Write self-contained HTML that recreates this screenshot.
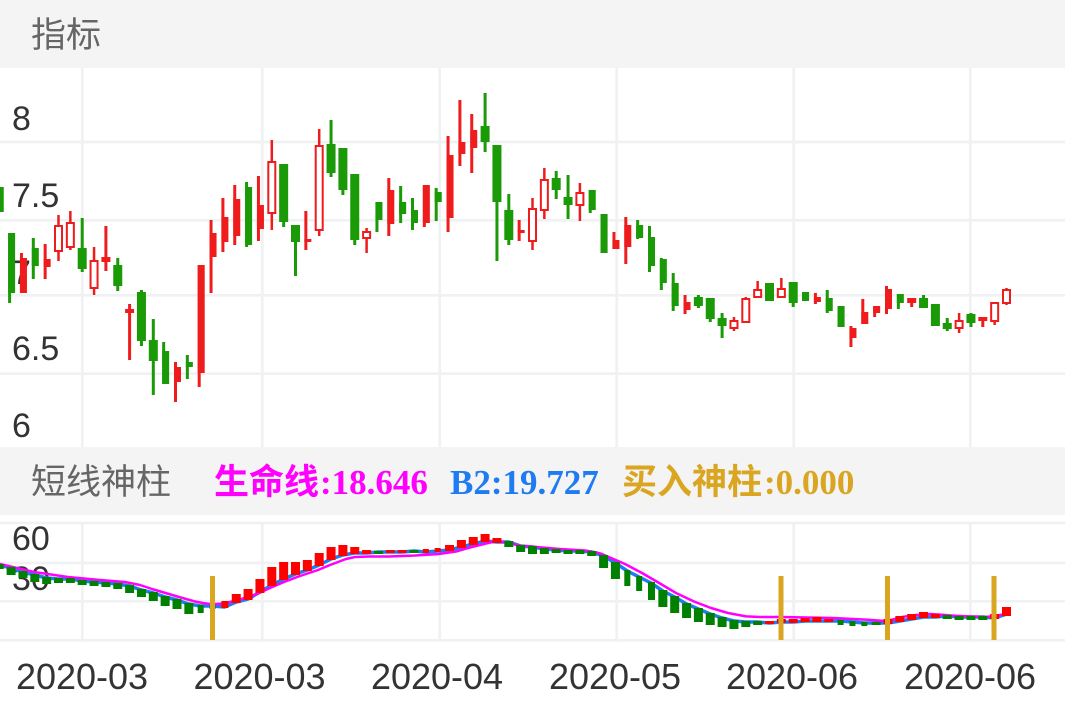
<!DOCTYPE html>
<html><head><meta charset="utf-8"><style>
html,body{margin:0;padding:0;background:#fff;width:1065px;height:708px;overflow:hidden}
svg{display:block}
.cr{fill:#ee1c1c}.cg{fill:#1a9a06}
.ch{fill:#fff;stroke:#ee1c1c;stroke-width:2}
.lr{fill:#ff0000}.lg{fill:#008000}
.ax{font-family:"Liberation Sans",sans-serif;fill:#333}
.hd{font-family:"Liberation Sans","Noto Sans CJK SC",sans-serif;fill:#666;font-size:35px}
.bt{font-family:"Liberation Serif","Noto Sans CJK SC",serif;font-weight:bold;font-size:35px}
</style></head><body>
<svg width="1065" height="708" viewBox="0 0 1065 708">
<rect width="1065" height="708" fill="#fff"/>
<rect x="0" y="0" width="1065" height="68" fill="#f4f4f4"/>
<rect x="0" y="447" width="1065" height="68" fill="#f4f4f4"/>
<text class="hd" x="31" y="47">指标</text>
<text class="hd" x="31" y="494">短线神柱</text>
<text class="bt" x="214" y="494" fill="#ff00ff">生命线</text>
<text class="bt" x="320" y="494" fill="#ff00ff">:18.646</text>
<text class="bt" x="450" y="494" fill="#1e7bf2" font-size="36">B2:19.727</text>
<text class="bt" x="622" y="494" fill="#daa520">买入神柱</text>
<text class="bt" x="764" y="494" fill="#daa520">:0.000</text>

<g stroke="#f0f1f3" stroke-width="2.7">
<line x1="82.3" y1="68" x2="82.3" y2="447"/><line x1="262.3" y1="68" x2="262.3" y2="447"/><line x1="439.7" y1="68" x2="439.7" y2="447"/><line x1="616.7" y1="68" x2="616.7" y2="447"/><line x1="793.7" y1="68" x2="793.7" y2="447"/><line x1="970.3" y1="68" x2="970.3" y2="447"/>
<line x1="0" y1="142" x2="1065" y2="142"/><line x1="0" y1="220.3" x2="1065" y2="220.3"/><line x1="0" y1="295.3" x2="1065" y2="295.3"/><line x1="0" y1="373.7" x2="1065" y2="373.7"/>
<line x1="82.3" y1="522" x2="82.3" y2="642"/><line x1="262.3" y1="522" x2="262.3" y2="642"/><line x1="439.7" y1="522" x2="439.7" y2="642"/><line x1="616.7" y1="522" x2="616.7" y2="642"/><line x1="793.7" y1="522" x2="793.7" y2="642"/><line x1="970.3" y1="522" x2="970.3" y2="642"/>
<line x1="0" y1="523" x2="1065" y2="523"/><line x1="0" y1="563" x2="1065" y2="563"/><line x1="0" y1="601.2" x2="1065" y2="601.2"/><line x1="0" y1="640.3" x2="1065" y2="640.3"/>
</g>

<g class="ax" font-size="34">
<text x="12" y="130">8</text><text x="12" y="207">7.5</text><text x="12" y="284">7</text><text x="12" y="360">6.5</text><text x="12" y="437">6</text>
<text x="12" y="550">60</text><text x="12" y="590">30</text>
</g>
<g class="ax" font-size="36" text-anchor="middle">
<text x="82" y="689">2020-03</text><text x="259.5" y="689">2020-03</text><text x="437" y="689">2020-04</text><text x="615" y="689">2020-05</text><text x="792" y="689">2020-06</text><text x="970" y="689">2020-06</text>
</g>

<!-- candles -->
<g class="cg" transform="translate(-0.75)"><rect x="-1.5" y="187" width="3" height="25"/><rect x="-4.5" y="187" width="9" height="25"/></g>
<g class="cg" transform="translate(11.1)"><rect x="-3" y="233" width="3" height="70"/><rect x="-3" y="233" width="7" height="60"/></g>
<g class="cr" transform="translate(22.95)"><rect x="-3" y="253" width="3" height="40"/><rect x="-3" y="258" width="7" height="35"/></g>
<g class="cg" transform="translate(34.8)"><rect x="-3" y="238" width="3" height="41"/><rect x="-3" y="248" width="7" height="18"/></g>
<g class="cr" transform="translate(46.65)"><rect x="-3" y="244" width="3" height="35"/><rect x="-3" y="259" width="7" height="8"/></g>
<g class="cr" transform="translate(58.5)"><rect x="-1.25" y="215" width="2.5" height="46"/><rect class="ch" x="-3.5" y="226" width="7" height="25"/></g>
<g class="cr" transform="translate(70.35)"><rect x="-1.25" y="211" width="2.5" height="39"/><rect class="ch" x="-3.5" y="223" width="7" height="24"/></g>
<g class="cg" transform="translate(82.2)"><rect x="-1.5" y="218" width="3" height="54"/><rect x="-4.5" y="248" width="9" height="21"/></g>
<g class="cr" transform="translate(94.05)"><rect x="-1.25" y="247" width="2.5" height="48"/><rect class="ch" x="-3.5" y="261" width="7" height="27"/></g>
<g class="cr" transform="translate(105.9)"><rect x="-1.5" y="226" width="3" height="45"/><rect x="-4.5" y="257" width="9" height="5"/></g>
<g class="cg" transform="translate(117.75)"><rect x="-1.5" y="258" width="3" height="33"/><rect x="-4.5" y="265" width="9" height="21"/></g>
<g class="cr" transform="translate(129.6)"><rect x="-1.5" y="304" width="3" height="56"/><rect x="-4.5" y="309" width="9" height="4"/></g>
<g class="cg" transform="translate(141.45)"><rect x="-1.5" y="290" width="3" height="56"/><rect x="-4.5" y="292" width="9" height="49"/></g>
<g class="cg" transform="translate(153.3)"><rect x="-1.5" y="319" width="3" height="76"/><rect x="-4.5" y="340" width="9" height="21"/></g>
<g class="cg" transform="translate(165.15)"><rect x="-3" y="342" width="3" height="42"/><rect x="-3" y="351" width="7" height="33"/></g>
<g class="cr" transform="translate(177)"><rect x="-3" y="362" width="3" height="40"/><rect x="-3" y="367" width="7" height="15"/></g>
<g class="cg" transform="translate(188.85)"><rect x="-3" y="355" width="3" height="24"/><rect x="-3" y="362" width="7" height="5"/></g>
<g class="cr" transform="translate(200.7)"><rect x="-3" y="265" width="3" height="122"/><rect x="-3" y="265" width="7" height="108"/></g>
<g class="cr" transform="translate(212.55)"><rect x="-3" y="220" width="3" height="73"/><rect x="-3" y="233" width="7" height="24"/></g>
<g class="cr" transform="translate(224.4)"><rect x="-3" y="198" width="3" height="54"/><rect x="-3" y="217" width="7" height="25"/></g>
<g class="cr" transform="translate(236.25)"><rect x="-3" y="185" width="3" height="60"/><rect x="-3" y="199" width="7" height="37"/></g>
<g class="cg" transform="translate(248.1)"><rect x="-3" y="182" width="3" height="65"/><rect x="-3" y="187" width="7" height="58"/></g>
<g class="cr" transform="translate(259.95)"><rect x="-3" y="176" width="3" height="65"/><rect x="-3" y="205" width="7" height="24"/></g>
<g class="cr" transform="translate(271.8)"><rect x="-1.25" y="140" width="2.5" height="90"/><rect class="ch" x="-3.5" y="162" width="7" height="51"/></g>
<g class="cg" transform="translate(283.65)"><rect x="-1.5" y="164" width="3" height="63"/><rect x="-4.5" y="164" width="9" height="58"/></g>
<g class="cg" transform="translate(295.5)"><rect x="-1.5" y="225" width="3" height="51"/><rect x="-4.5" y="225" width="9" height="17"/></g>
<g class="cr" transform="translate(307.35)"><rect x="-3" y="211" width="3" height="39"/><rect x="-3" y="239" width="7" height="3"/></g>
<g class="cr" transform="translate(319.2)"><rect x="-1.25" y="129" width="2.5" height="107"/><rect class="ch" x="-3.5" y="146" width="7" height="84"/></g>
<g class="cg" transform="translate(331.05)"><rect x="-1.5" y="120" width="3" height="57"/><rect x="-4.5" y="144" width="9" height="29"/></g>
<g class="cg" transform="translate(342.9)"><rect x="-1.5" y="148" width="3" height="47"/><rect x="-4.5" y="148" width="9" height="42"/></g>
<g class="cg" transform="translate(354.75)"><rect x="-1.5" y="174" width="3" height="71"/><rect x="-4.5" y="174" width="9" height="66"/></g>
<g class="cr" transform="translate(366.6)"><rect x="-1.25" y="228" width="2.5" height="25"/><rect class="ch" x="-3.5" y="232" width="7" height="6"/></g>
<g class="cg" transform="translate(378.45)"><rect x="-3" y="202" width="3" height="30"/><rect x="-3" y="202" width="7" height="18"/></g>
<g class="cr" transform="translate(390.3)"><rect x="-3" y="178" width="3" height="58"/><rect x="-3" y="190" width="7" height="34"/></g>
<g class="cg" transform="translate(402.15)"><rect x="-3" y="186" width="3" height="37"/><rect x="-3" y="202" width="7" height="12"/></g>
<g class="cg" transform="translate(414)"><rect x="-3" y="198" width="3" height="32"/><rect x="-3" y="210" width="7" height="13"/></g>
<g class="cr" transform="translate(425.85)"><rect x="-3" y="185" width="3" height="42"/><rect x="-3" y="185" width="7" height="38"/></g>
<g class="cg" transform="translate(437.7)"><rect x="-3" y="188" width="3" height="33"/><rect x="-3" y="192" width="7" height="10"/></g>
<g class="cr" transform="translate(449.55)"><rect x="-3" y="136" width="3" height="96"/><rect x="-3" y="155" width="7" height="63"/></g>
<g class="cr" transform="translate(461.4)"><rect x="-3" y="100" width="3" height="66"/><rect x="-3" y="142" width="7" height="12"/></g>
<g class="cr" transform="translate(473.25)"><rect x="-3" y="114" width="3" height="59"/><rect x="-3" y="130" width="7" height="18"/></g>
<g class="cg" transform="translate(485.1)"><rect x="-1.5" y="93" width="3" height="59"/><rect x="-4.5" y="126" width="9" height="16"/></g>
<g class="cg" transform="translate(496.95)"><rect x="-1.5" y="145" width="3" height="116"/><rect x="-4.5" y="145" width="9" height="57"/></g>
<g class="cg" transform="translate(508.8)"><rect x="-1.5" y="194" width="3" height="51"/><rect x="-4.5" y="210" width="9" height="30"/></g>
<g class="cr" transform="translate(520.65)"><rect x="-3" y="220" width="3" height="21"/><rect x="-3" y="230" width="7" height="3"/></g>
<g class="cr" transform="translate(532.5)"><rect x="-1.25" y="198" width="2.5" height="52"/><rect class="ch" x="-3.5" y="209" width="7" height="32"/></g>
<g class="cr" transform="translate(544.35)"><rect x="-1.25" y="168" width="2.5" height="51"/><rect class="ch" x="-3.5" y="180" width="7" height="30"/></g>
<g class="cg" transform="translate(556.2)"><rect x="-1.5" y="171" width="3" height="28"/><rect x="-4.5" y="178" width="9" height="12"/></g>
<g class="cg" transform="translate(568.05)"><rect x="-1.5" y="175" width="3" height="44"/><rect x="-4.5" y="197" width="9" height="8"/></g>
<g class="cr" transform="translate(579.9)"><rect x="-1.25" y="183" width="2.5" height="38"/><rect class="ch" x="-3.5" y="193" width="7" height="12"/></g>
<g class="cg" transform="translate(591.75)"><rect x="-3" y="190" width="3" height="23"/><rect x="-3" y="190" width="7" height="20"/></g>
<g class="cg" transform="translate(603.6)"><rect x="-3" y="214" width="3" height="39"/><rect x="-3" y="214" width="7" height="39"/></g>
<g class="cr" transform="translate(615.45)"><rect x="-3" y="232" width="3" height="17"/><rect x="-3" y="240" width="7" height="9"/></g>
<g class="cr" transform="translate(627.3)"><rect x="-3" y="217" width="3" height="47"/><rect x="-3" y="225" width="7" height="22"/></g>
<g class="cg" transform="translate(639.15)"><rect x="-3" y="220" width="3" height="19"/><rect x="-3" y="225" width="7" height="13"/></g>
<g class="cg" transform="translate(651)"><rect x="-3" y="226" width="3" height="46"/><rect x="-3" y="237" width="7" height="29"/></g>
<g class="cg" transform="translate(662.85)"><rect x="-3" y="258" width="3" height="32"/><rect x="-3" y="259" width="7" height="24"/></g>
<g class="cg" transform="translate(674.7)"><rect x="-3" y="273" width="3" height="38"/><rect x="-3" y="283" width="7" height="23"/></g>
<g class="cr" transform="translate(686.55)"><rect x="-3" y="295" width="3" height="19"/><rect x="-3" y="302" width="7" height="8"/></g>
<g class="cg" transform="translate(698.4)"><rect x="-1.5" y="295" width="3" height="13"/><rect x="-4.5" y="297" width="9" height="9"/></g>
<g class="cg" transform="translate(710.25)"><rect x="-1.5" y="298" width="3" height="24"/><rect x="-4.5" y="298" width="9" height="21"/></g>
<g class="cg" transform="translate(722.1)"><rect x="-1.5" y="313" width="3" height="25"/><rect x="-4.5" y="318" width="9" height="8"/></g>
<g class="cr" transform="translate(733.95)"><rect x="-1.25" y="317" width="2.5" height="14"/><rect class="ch" x="-3.5" y="321" width="7" height="7"/></g>
<g class="cr" transform="translate(745.8)"><rect x="-1.25" y="297" width="2.5" height="26"/><rect class="ch" x="-3.5" y="299" width="7" height="23"/></g>
<g class="cr" transform="translate(757.65)"><rect x="-1.25" y="281" width="2.5" height="17"/><rect class="ch" x="-3.5" y="290" width="7" height="7"/></g>
<g class="cg" transform="translate(769.5)"><rect x="-1.5" y="283" width="3" height="18"/><rect x="-4.5" y="283" width="9" height="18"/></g>
<g class="cr" transform="translate(781.35)"><rect x="-1.25" y="278" width="2.5" height="20"/><rect class="ch" x="-3.5" y="289" width="7" height="8"/></g>
<g class="cg" transform="translate(793.2)"><rect x="-1.5" y="282" width="3" height="25"/><rect x="-4.5" y="282" width="9" height="21"/></g>
<g class="cg" transform="translate(805.05)"><rect x="-3" y="292" width="3" height="9"/><rect x="-3" y="292" width="7" height="9"/></g>
<g class="cr" transform="translate(816.9)"><rect x="-3" y="293" width="3" height="11"/><rect x="-3" y="297" width="7" height="5"/></g>
<g class="cg" transform="translate(828.75)"><rect x="-3" y="290" width="3" height="23"/><rect x="-3" y="298" width="7" height="13"/></g>
<g class="cg" transform="translate(840.6)"><rect x="-3" y="306" width="3" height="21"/><rect x="-3" y="306" width="7" height="21"/></g>
<g class="cr" transform="translate(852.45)"><rect x="-3" y="326" width="3" height="21"/><rect x="-3" y="328" width="7" height="10"/></g>
<g class="cr" transform="translate(864.3)"><rect x="-3" y="299" width="3" height="25"/><rect x="-3" y="312" width="7" height="12"/></g>
<g class="cr" transform="translate(876.15)"><rect x="-3" y="306" width="3" height="11"/><rect x="-3" y="306" width="7" height="7"/></g>
<g class="cr" transform="translate(888)"><rect x="-3" y="286" width="3" height="28"/><rect x="-3" y="289" width="7" height="20"/></g>
<g class="cg" transform="translate(899.85)"><rect x="-3" y="294" width="3" height="15"/><rect x="-3" y="294" width="7" height="9"/></g>
<g class="cr" transform="translate(911.7)"><rect x="-1.5" y="298" width="3" height="9"/><rect x="-4.5" y="298" width="9" height="5"/></g>
<g class="cg" transform="translate(923.55)"><rect x="-1.5" y="295" width="3" height="13"/><rect x="-4.5" y="298" width="9" height="10"/></g>
<g class="cg" transform="translate(935.4)"><rect x="-1.5" y="304" width="3" height="22"/><rect x="-4.5" y="304" width="9" height="22"/></g>
<g class="cg" transform="translate(947.25)"><rect x="-1.5" y="318" width="3" height="13"/><rect x="-4.5" y="323" width="9" height="6"/></g>
<g class="cr" transform="translate(959.1)"><rect x="-1.25" y="313" width="2.5" height="20"/><rect class="ch" x="-3.5" y="321" width="7" height="7"/></g>
<g class="cg" transform="translate(970.95)"><rect x="-1.5" y="313" width="3" height="14"/><rect x="-4.5" y="314" width="9" height="9"/></g>
<g class="cr" transform="translate(982.8)"><rect x="-1.5" y="317" width="3" height="10"/><rect x="-4.5" y="317" width="9" height="4"/></g>
<g class="cr" transform="translate(994.65)"><rect x="-1.25" y="302" width="2.5" height="23"/><rect class="ch" x="-3.5" y="303" width="7" height="18"/></g>
<g class="cr" transform="translate(1006.5)"><rect x="-1.25" y="288" width="2.5" height="17"/><rect class="ch" x="-3.5" y="290" width="7" height="13"/></g>

<!-- lower panel lines -->
<polyline fill="none" stroke="#1e7ef0" stroke-width="3.5" stroke-linejoin="round" points="-0.75,565 11.1,568 22.95,572 34.8,575 46.65,578 58.5,579 70.35,579 82.2,581 94.05,582 105.9,583 117.75,584 129.6,586 141.45,590 153.3,593 165.15,597 177,600 188.85,604 200.7,606 212.55,606 224.4,607 236.25,602 248.1,599 259.95,592 271.8,585 283.65,579 295.5,574 307.35,570 319.2,565 331.05,559 342.9,555 354.75,553 366.6,553 378.45,552 390.3,552 402.15,552 414,551 425.85,552 437.7,551 449.55,550 461.4,547 473.25,544 485.1,541 496.95,542 508.8,542 520.65,546 532.5,547 544.35,549 556.2,550 568.05,551 579.9,551 591.75,552 603.6,556 615.45,563 627.3,571 639.15,577 651,583 662.85,591 674.7,597 686.55,604 698.4,609 710.25,614 722.1,618 733.95,621 745.8,622 757.65,622 769.5,623 781.35,622 793.2,622 805.05,621 816.9,621 828.75,621 840.6,621 852.45,622 864.3,623 876.15,623 888,623 899.85,621 911.7,619 923.55,617 935.4,617 947.25,616 959.1,617 970.95,617 982.8,617 994.65,618 1010,613"/>
<polyline fill="none" stroke="#ff00ff" stroke-width="2.5" stroke-linejoin="round" points="0,564 34,572 68,577 100,580 125,582 140,585 152,589 179,597 195,601.5 203,603 210,604 216,604 224,603.5 230,602 245,598 257,594 270,588 284,582 300,576 318,570 330,565 338,562 346,559 355,557 370,556.5 389,556.5 415,555.5 439,554 456,551.5 468,548 480,545 488,543 495,541.5 503,542 512,543.5 520,545.6 560,549 585,550.5 596,552.3 602,554 607,556.3 625,564 642,573 660,583.5 676,593 694,601.5 711,608 728,613 746,616.4 760,617 781,617 833,618 868,619.8 885,621 893,619.5 902,617 916,615 930,614 942,614.7 955,615.8 970,616.5 986,617 998,615.5 1010,613"/>

<!-- lower bars -->
<g>
<rect class="lg" transform="translate(-0.75)" x="-4.5" y="564" width="9" height="5"/>
<rect class="lg" transform="translate(11.1)" x="-4.5" y="567" width="9" height="8"/>
<rect class="lg" transform="translate(22.95)" x="-4.5" y="571" width="9" height="7"/>
<rect class="lg" transform="translate(34.8)" x="-4.5" y="574" width="9" height="8"/>
<rect class="lg" transform="translate(46.65)" x="-4.5" y="577" width="9" height="7"/>
<rect class="lg" transform="translate(58.5)" x="-4.5" y="578" width="9" height="5"/>
<rect class="lg" transform="translate(70.35)" x="-4.5" y="578" width="9" height="5"/>
<rect class="lg" transform="translate(82.2)" x="-4.5" y="580" width="9" height="5"/>
<rect class="lg" transform="translate(94.05)" x="-4.5" y="581" width="9" height="5"/>
<rect class="lg" transform="translate(105.9)" x="-4.5" y="582" width="9" height="5"/>
<rect class="lg" transform="translate(117.75)" x="-4.5" y="583" width="9" height="6"/>
<rect class="lg" transform="translate(129.6)" x="-4.5" y="585" width="9" height="8"/>
<rect class="lg" transform="translate(141.45)" x="-4.5" y="589" width="9" height="8"/>
<rect class="lg" transform="translate(153.3)" x="-4.5" y="592" width="9" height="9"/>
<rect class="lg" transform="translate(165.15)" x="-4.5" y="596" width="9" height="10"/>
<rect class="lg" transform="translate(177)" x="-4.5" y="599" width="9" height="10"/>
<rect class="lg" transform="translate(188.85)" x="-4.5" y="603" width="9" height="11"/>
<rect class="lg" transform="translate(200.7)" x="-3" y="605" width="6" height="8"/>
<rect class="lg" transform="translate(212.55)" x="-3" y="605" width="6" height="4"/>
<rect class="lr" transform="translate(224.4)" x="-3" y="601" width="7" height="7"/>
<rect class="lr" transform="translate(236.25)" x="-4.5" y="594" width="9" height="9"/>
<rect class="lr" transform="translate(248.1)" x="-4.5" y="589" width="9" height="11"/>
<rect class="lr" transform="translate(259.95)" x="-4.5" y="579" width="9" height="14"/>
<rect class="lr" transform="translate(271.8)" x="-4.5" y="567" width="9" height="19"/>
<rect class="lr" transform="translate(283.65)" x="-4.5" y="562" width="9" height="18"/>
<rect class="lr" transform="translate(295.5)" x="-4.5" y="562" width="9" height="13"/>
<rect class="lr" transform="translate(307.35)" x="-4.5" y="560" width="9" height="11"/>
<rect class="lr" transform="translate(319.2)" x="-4.5" y="553" width="9" height="13"/>
<rect class="lr" transform="translate(331.05)" x="-4.5" y="547" width="9" height="13"/>
<rect class="lr" transform="translate(342.9)" x="-4.5" y="545" width="9" height="11"/>
<rect class="lr" transform="translate(354.75)" x="-4.5" y="547" width="9" height="7"/>
<rect class="lr" transform="translate(366.6)" x="-4.5" y="550" width="9" height="4"/>
<rect class="lg" transform="translate(378.45)" x="-4.5" y="551" width="9" height="3"/>
<rect class="lr" transform="translate(390.3)" x="-4.5" y="550" width="9" height="3"/>
<rect class="lr" transform="translate(402.15)" x="-4.5" y="550" width="9" height="3"/>
<rect class="lg" transform="translate(414)" x="-4.5" y="550" width="9" height="3"/>
<rect class="lr" transform="translate(425.85)" x="-3" y="549" width="6" height="4"/>
<rect class="lr" transform="translate(437.7)" x="-3" y="548" width="6" height="4"/>
<rect class="lr" transform="translate(449.55)" x="-4.5" y="545" width="9" height="6"/>
<rect class="lr" transform="translate(461.4)" x="-4.5" y="540" width="9" height="8"/>
<rect class="lr" transform="translate(473.25)" x="-4.5" y="537" width="9" height="8"/>
<rect class="lr" transform="translate(485.1)" x="-4.5" y="534" width="9" height="8"/>
<rect class="lr" transform="translate(496.95)" x="-4.5" y="538" width="9" height="5"/>
<rect class="lg" transform="translate(508.8)" x="-4.5" y="541" width="9" height="6"/>
<rect class="lg" transform="translate(520.65)" x="-4.5" y="545" width="9" height="7"/>
<rect class="lg" transform="translate(532.5)" x="-4.5" y="546" width="9" height="8"/>
<rect class="lg" transform="translate(544.35)" x="-4.5" y="548" width="9" height="6"/>
<rect class="lg" transform="translate(556.2)" x="-4.5" y="549" width="9" height="4"/>
<rect class="lg" transform="translate(568.05)" x="-4.5" y="550" width="9" height="4"/>
<rect class="lg" transform="translate(579.9)" x="-4.5" y="550" width="9" height="4"/>
<rect class="lg" transform="translate(591.75)" x="-4.5" y="551" width="9" height="5"/>
<rect class="lg" transform="translate(603.6)" x="-4.5" y="555" width="9" height="13"/>
<rect class="lg" transform="translate(615.45)" x="-4.5" y="562" width="9" height="17"/>
<rect class="lg" transform="translate(627.3)" x="-3" y="570" width="6" height="16"/>
<rect class="lg" transform="translate(639.15)" x="-3" y="576" width="6" height="15"/>
<rect class="lg" transform="translate(651)" x="-3" y="582" width="7" height="18"/>
<rect class="lg" transform="translate(662.85)" x="-4.5" y="590" width="9" height="17"/>
<rect class="lg" transform="translate(674.7)" x="-4.5" y="596" width="9" height="17"/>
<rect class="lg" transform="translate(686.55)" x="-4.5" y="603" width="9" height="15"/>
<rect class="lg" transform="translate(698.4)" x="-4.5" y="608" width="9" height="14"/>
<rect class="lg" transform="translate(710.25)" x="-4.5" y="613" width="9" height="12"/>
<rect class="lg" transform="translate(722.1)" x="-4.5" y="617" width="9" height="10"/>
<rect class="lg" transform="translate(733.95)" x="-4.5" y="620" width="9" height="9"/>
<rect class="lg" transform="translate(745.8)" x="-4.5" y="621" width="9" height="6"/>
<rect class="lg" transform="translate(757.65)" x="-4.5" y="621" width="9" height="4"/>
<rect class="lr" transform="translate(769.5)" x="-4.5" y="621" width="9" height="3"/>
<rect class="lr" transform="translate(781.35)" x="-4.5" y="619" width="9" height="4"/>
<rect class="lr" transform="translate(793.2)" x="-4.5" y="619" width="9" height="4"/>
<rect class="lr" transform="translate(805.05)" x="-4.5" y="618" width="9" height="4"/>
<rect class="lr" transform="translate(816.9)" x="-4.5" y="617" width="9" height="5"/>
<rect class="lr" transform="translate(828.75)" x="-4.5" y="619" width="9" height="3"/>
<rect class="lg" transform="translate(840.6)" x="-3" y="620" width="6" height="5"/>
<rect class="lg" transform="translate(852.45)" x="-3" y="621" width="6" height="5"/>
<rect class="lg" transform="translate(864.3)" x="-3" y="622" width="6" height="4"/>
<rect class="lg" transform="translate(876.15)" x="-4.5" y="622" width="9" height="3"/>
<rect class="lr" transform="translate(888)" x="-4.5" y="619" width="9" height="5"/>
<rect class="lr" transform="translate(899.85)" x="-4.5" y="616" width="9" height="6"/>
<rect class="lr" transform="translate(911.7)" x="-4.5" y="614" width="9" height="6"/>
<rect class="lr" transform="translate(923.55)" x="-4.5" y="612" width="9" height="6"/>
<rect class="lr" transform="translate(935.4)" x="-4.5" y="614" width="9" height="4"/>
<rect class="lg" transform="translate(947.25)" x="-4.5" y="615" width="9" height="4"/>
<rect class="lg" transform="translate(959.1)" x="-4.5" y="616" width="9" height="4"/>
<rect class="lg" transform="translate(970.95)" x="-4.5" y="616" width="9" height="4"/>
<rect class="lg" transform="translate(982.8)" x="-4.5" y="616" width="9" height="4"/>
<rect class="lr" transform="translate(994.65)" x="-4.5" y="614" width="9" height="5"/>
<rect class="lr" transform="translate(1006.5)" x="-4.5" y="607" width="9" height="9"/>
</g>

<!-- gold buy bars -->
<g fill="#daa520">
<rect x="210" y="576" width="5" height="64"/>
<rect x="778.5" y="576" width="5" height="64"/>
<rect x="885" y="576" width="5" height="64"/>
<rect x="991.5" y="576" width="5" height="64"/>
</g>
</svg>
</body></html>
